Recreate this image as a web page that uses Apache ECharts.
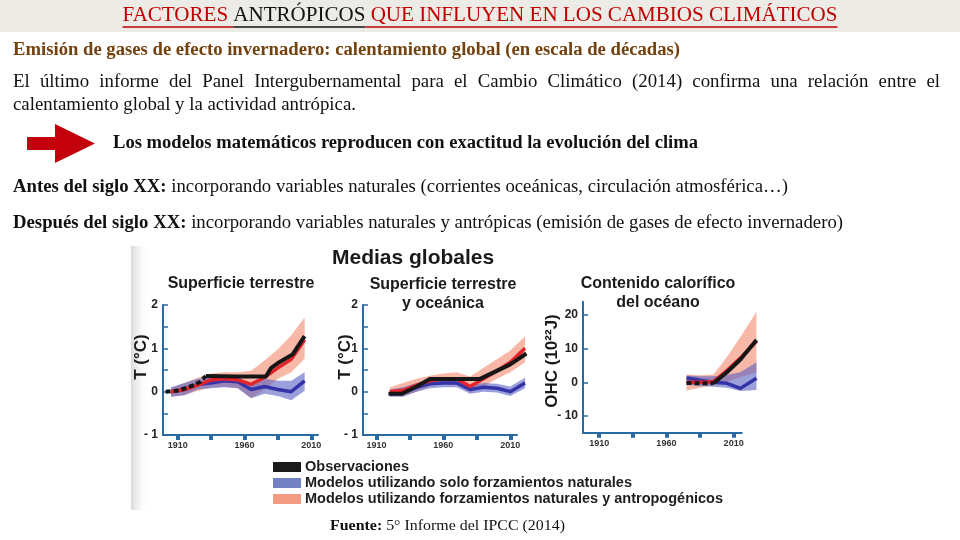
<!DOCTYPE html>
<html><head><meta charset="utf-8">
<script src="https://cdn.jsdelivr.net/npm/echarts@6/dist/echarts.min.js"></script>
<style>html,body{margin:0;padding:0;background:#fff}#c{width:960px;height:540px}</style>
</head><body><div id="c"></div>
<script>
// ---------- DATA ----------
// Panel 1: Superficie terrestre (T, °C)
const landYears      = [1905,1915,1925,1935,1945,1955,1965,1975,1985,1995,2005];
const landAnthMean   = [0, 0.05, 0.15, 0.27, 0.30, 0.27, 0.17, 0.33, 0.55, 0.75, 1.20];
const landAnthUpper  = [0.08, 0.20, 0.32, 0.42, 0.45, 0.45, 0.48, 0.72, 0.98, 1.30, 1.72];
const landAnthLower  = [-0.12, -0.08, 0.02, 0.10, 0.12, 0.08, -0.15, 0.05, 0.30, 0.45, 0.76];
const landNatMean    = [0, 0.05, 0.17, 0.20, 0.25, 0.23, 0.05, 0.12, 0.05, 0.00, 0.25];
const landNatUpper   = [0.10, 0.20, 0.30, 0.32, 0.35, 0.35, 0.15, 0.30, 0.25, 0.25, 0.45];
const landNatLower   = [-0.12, -0.08, 0.05, 0.08, 0.10, 0.08, -0.15, -0.05, -0.10, -0.20, 0.02];
const landObsDashYears = [1901, 1911, 1921, 1927, 1931];
const landObsDash      = [0, 0.03, 0.14, 0.23, 0.36];
const landObsYears     = [1931, 1955, 1976, 1980, 1985, 1996, 2005];
const landObs          = [0.36, 0.35, 0.35, 0.55, 0.66, 0.86, 1.28];

// Panel 2: Superficie terrestre y oceánica (T, °C)
const globYears      = [1920,1930,1940,1950,1960,1970,1980,1990,2000,2010,2021];
const globAnthMean   = [0, 0.03, 0.15, 0.25, 0.30, 0.30, 0.12, 0.30, 0.48, 0.68, 1.00];
const globAnthUpper  = [0.10, 0.20, 0.30, 0.37, 0.42, 0.45, 0.35, 0.55, 0.75, 0.95, 1.28];
const globAnthLower  = [-0.10, -0.10, 0.00, 0.13, 0.18, 0.15, 0.00, 0.12, 0.30, 0.45, 0.68];
const globNatMean    = [-0.05, -0.02, 0.10, 0.18, 0.20, 0.20, 0.05, 0.10, 0.08, 0.00, 0.20];
const globNatUpper   = [0.05, 0.10, 0.20, 0.28, 0.30, 0.30, 0.15, 0.20, 0.18, 0.12, 0.32];
const globNatLower   = [-0.12, -0.12, 0.00, 0.08, 0.10, 0.10, -0.05, 0.00, -0.02, -0.10, 0.08];
const globObsYears   = [1919, 1929, 1940, 1950, 1987, 2010, 2022];
const globObs        = [-0.05, -0.05, 0.12, 0.29, 0.29, 0.63, 0.88];

// Panel 3: Contenido calorífico del océano (OHC, 10^22 J)
const ohcYears       = [1975, 1985, 1995, 2005, 2015, 2027];
const ohcAnthMean    = [0, 0, 0.2, 3.5, 7.2, 12.2];
const ohcAnthUpper   = [2.3, 2.1, 2.3, 7.5, 13.5, 21];
const ohcAnthLower   = [-2.4, -1.6, -0.8, 0.2, 1.5, 3];
const ohcNatMean     = [1.3, 0.6, 0, -0.3, -1.8, 1.2];
const ohcNatUpper    = [2.0, 1.8, 1.8, 2.2, 3.0, 6];
const ohcNatLower    = [-0.7, -1.1, -1.3, -1.6, -2.6, -2.3];
const ohcObsDashYears = [1975, 1985, 1995];
const ohcObsDash      = [-0.2, -0.3, -0.3];
const ohcObsYears     = [1995, 2005, 2015, 2027];
const ohcObs          = [-0.3, 3.0, 6.8, 12.6];

// Axis ticks / labels
const xTickYears  = [1910, 1935, 1960, 1985, 2010];
const xLabelYears = [1910, 1960, 2010];
const ohcTicks    = [-10, 0, 10, 20];

const legendItems = ['Observaciones', 'Modelos utilizando solo forzamientos naturales', 'Modelos utilizando forzamientos naturales y antropogénicos'];

// ---------- STYLE ----------
const SANS = '"Liberation Sans", Arial, sans-serif';
const SERIF = '"Liberation Serif", "Times New Roman", serif';
const AX = '#2a6aa3';
const PINK = '#f6a08b', BLUE_BAND = '#585fc2';
const RED = '#e3242b', BLUE = '#3434a8', BLACK = '#161616';
const LEG_COLORS = ['#1a1a1a', '#7381c4', '#f29a82'];

const ctx = document.createElement('canvas').getContext('2d');
function tw(t, font){ ctx.font = font; return ctx.measureText(t).width; }
function pairs(xs, ys){ return xs.map((x,i)=>[x, ys[i]]); }

function bandSeries(i, xs, lo, hi, color, op, z){
  return {type:'custom', xAxisIndex:i, yAxisIndex:i, data:xs.map((x,k)=>[x, lo[k], hi[k]]),
    encode:{x:0, y:[1,2]}, silent:true, clip:false, z:z,
    renderItem:function(params, api){
      if (params.dataIndex !== 0) return null;
      const top = xs.map((x,k)=>api.coord([x, hi[k]]));
      const bot = xs.map((x,k)=>api.coord([x, lo[k]])).reverse();
      return {type:'polygon', shape:{points:top.concat(bot)}, style:{fill:color, opacity:op}};
    }};
}
function lineSeries(i, xs, ys, color, w, dashed, z){
  return {type:'custom', xAxisIndex:i, yAxisIndex:i, data:pairs(xs, ys),
    encode:{x:0, y:1}, silent:true, clip:false, z:z,
    renderItem:function(params, api){
      if (params.dataIndex !== 0) return null;
      const pts = xs.map((x,k)=>api.coord([x, ys[k]]));
      return {type:'polyline', shape:{points:pts}, style:{stroke:color, lineWidth:w, fill:null,
        lineDash: dashed ? [5,3] : null, lineJoin:'round'}};
    }};
}
function xAx(i, min, max){
  return {type:'value', gridIndex:i, min:min, max:max,
    axisLine:{onZero:false, lineStyle:{color:AX, width:2}}, splitLine:{show:false},
    axisTick:{customValues:xTickYears, length:5, lineStyle:{color:AX, width:4}},
    axisLabel:{customValues:xLabelYears, formatter:v=>String(v), fontSize:9, fontWeight:'bold', color:'#333', margin:6, fontFamily:SANS}};
}
const negFmt = v => v < 0 ? '- ' + Math.abs(v) : String(v);
function yAxT(i){
  return {type:'value', gridIndex:i, min:-1, max:2, interval:1,
    axisLine:{show:true, onZero:false, lineStyle:{color:AX, width:2}}, splitLine:{show:false},
    axisTick:{show:true, inside:true, length:5, lineStyle:{color:AX, width:1.5}},
    minorTick:{show:true, splitNumber:2, length:5, lineStyle:{color:AX, width:1.5}},
    axisLabel:{formatter:negFmt, fontSize:12, fontWeight:'bold', color:'#222', margin:5, fontFamily:SANS}};
}

const series = [
  bandSeries(0, landYears, landAnthLower, landAnthUpper, PINK, 0.75, 1),
  bandSeries(0, landYears, landNatLower, landNatUpper, BLUE_BAND, 0.6, 2),
  lineSeries(0, landYears, landNatMean, BLUE, 3.5, false, 3),
  lineSeries(0, landYears, landAnthMean, RED, 3.5, false, 4),
  lineSeries(0, landObsDashYears, landObsDash, BLACK, 4, true, 5),
  lineSeries(0, landObsYears, landObs, BLACK, 4, false, 5),
  bandSeries(1, globYears, globAnthLower, globAnthUpper, PINK, 0.75, 1),
  bandSeries(1, globYears, globNatLower, globNatUpper, BLUE_BAND, 0.6, 2),
  lineSeries(1, globYears, globNatMean, BLUE, 3.5, false, 3),
  lineSeries(1, globYears, globAnthMean, RED, 3.5, false, 4),
  lineSeries(1, globObsYears, globObs, BLACK, 4, false, 5),
  bandSeries(2, ohcYears, ohcAnthLower, ohcAnthUpper, PINK, 0.75, 1),
  bandSeries(2, ohcYears, ohcNatLower, ohcNatUpper, BLUE_BAND, 0.6, 2),
  lineSeries(2, ohcYears, ohcNatMean, BLUE, 3.5, false, 3),
  lineSeries(2, ohcYears, ohcAnthMean, RED, 3.5, false, 4),
  lineSeries(2, ohcObsDashYears, ohcObsDash, BLACK, 4, true, 5),
  lineSeries(2, ohcObsYears, ohcObs, BLACK, 4, false, 5)
];

// ---------- GRAPHIC (slide text) ----------
const G = [];
function txt(x, y, text, font, color, align, extra, sx){
  const el = {type:'text', x:x, y:y, silent:true, z:10, scaleX:sx||1,
    style:Object.assign({text:text, font:font, fill:color, textAlign:align||'left', textVerticalAlign:'middle'}, extra||{})};
  G.push(el); return el;
}
// fitted text: stretch horizontally to target width
function fitTxt(x, y, parts, size, color, target){
  const fReg = size + 'px ' + SERIF, fB = 'bold ' + size + 'px ' + SERIF;
  let w = 0, s = '';
  parts.forEach(p=>{ w += tw(p[0], p[1] ? fB : fReg); s += p[1] ? '{b|' + p[0] + '}' : p[0]; });
  const sx = target / w;
  txt(x, y, s, fReg, color, 'left', {rich:{b:{font:fB, fill:color}}}, sx);
  return sx;
}
// title bar
G.push({type:'rect', shape:{x:0, y:0, width:960, height:32}, style:{fill:'#ecebe5'}, silent:true, z:0});
const TF = '20px ' + SERIF;
const tParts = ['FACTORES ', 'ANTRÓPICOS', ' QUE INFLUYEN EN LOS CAMBIOS CLIMÁTICOS'];
const tCols = ['#c00000', '#111111', '#c00000'];
const tW0 = tParts.map(p=>tw(p, TF));
const tS = 715 / (tW0[0]+tW0[1]+tW0[2]);
let tx = 480 - 715/2;
tParts.forEach((p,k)=>{
  txt(tx, 16, p, TF, tCols[k], 'left', null, tS);
  G.push({type:'line', shape:{x1:tx, y1:27, x2:tx+tW0[k]*tS, y2:27}, style:{stroke:tCols[k], lineWidth:1.6}, silent:true, z:10});
  tx += tW0[k]*tS;
});
const FS = 18;
// subtitle
fitTxt(13, 50, [['Emisión de gases de efecto invernadero: calentamiento global (en escala de décadas)', true]], FS, '#74420f', 667);
// paragraph
const PF = FS + 'px ' + SERIF;
const PSX = fitTxt(13, 105, [['calentamiento global y la actividad antrópica.', false]], FS, '#111', 343);
const words = 'El último informe del Panel Intergubernamental para el Cambio Climático (2014) confirma una relación entre el'.split(' ');
const wW = words.map(w=>tw(w, PF) * PSX);
const gap = (940 - 13 - wW.reduce((a,b)=>a+b,0)) / (words.length - 1);
let wx = 13;
words.forEach((w,k)=>{ txt(wx, 82, w, PF, '#111', 'left', null, PSX); wx += wW[k] + gap; });
// arrow
G.push({type:'polygon', shape:{points:[[27,137],[55,137],[55,124],[95,143.5],[55,163],[55,150],[27,150]]}, style:{fill:'#c3000b'}, silent:true, z:10});
fitTxt(113, 143, [['Los modelos matemáticos reproducen con exactitud la evolución del clima', true]], FS, '#111', 585);
// antes / después
fitTxt(13, 187, [['Antes del siglo XX:', true], [' incorporando variables naturales (corrientes oceánicas, circulación atmosférica…)', false]], FS, '#111', 775);
fitTxt(13, 223, [['Después del siglo XX:', true], [' incorporando variables naturales y antrópicas (emisión de gases de efecto invernadero)', false]], FS, '#111', 830);

// chart figure decorations
G.push({type:'rect', shape:{x:131, y:246, width:18, height:264},
  style:{fill:new echarts.graphic.LinearGradient(0,0,1,0,[{offset:0,color:'#d9d9d9'},{offset:1,color:'rgba(255,255,255,0)'}])}, silent:true, z:0});
txt(332, 258, 'Medias globales', 'bold 21px ' + SANS, '#1a1a1a');
const PT = 'bold 16px ' + SANS;
txt(241, 284, 'Superficie terrestre', PT, '#1a1a1a', 'center');
txt(443, 285, 'Superficie terrestre', PT, '#1a1a1a', 'center');
txt(443, 304, 'y oceánica', PT, '#1a1a1a', 'center');
txt(658, 284, 'Contenido calorífico', PT, '#1a1a1a', 'center');
txt(658, 303, 'del océano', PT, '#1a1a1a', 'center');
// rotated axis names
const AF = 'bold 17px ' + SANS;
G.push({type:'text', x:141, y:357, rotation:Math.PI/2, silent:true, z:10, style:{text:'T (°C)', font:AF, fill:'#1a1a1a', textAlign:'center', textVerticalAlign:'middle'}});
G.push({type:'text', x:345, y:357, rotation:Math.PI/2, silent:true, z:10, style:{text:'T (°C)', font:AF, fill:'#1a1a1a', textAlign:'center', textVerticalAlign:'middle'}});
G.push({type:'text', x:552, y:361, rotation:Math.PI/2, silent:true, z:10, style:{text:'OHC (10²²J)', font:AF, fill:'#1a1a1a', textAlign:'center', textVerticalAlign:'middle'}});
// legend
const LF = 'bold 14.5px ' + SANS;
const LSX = 418 / tw(legendItems[2], LF);
legendItems.forEach((name,k)=>{
  const y = 462 + k*16;
  G.push({type:'rect', shape:{x:273, y:y, width:28, height:10}, style:{fill:LEG_COLORS[k]}, silent:true, z:10});
  txt(305, y+5, name, LF, '#1e1e1e', 'left', null, LSX);
});
// source
fitTxt(330, 526, [['Fuente:', true], [' 5° Informe del IPCC (2014)', false]], 15, '#111', 235);

// ---------- CHART ----------
const chart = echarts.init(document.getElementById('c'), null, {renderer:'canvas'});
chart.setOption({
  animation:false,
  backgroundColor:'#ffffff',
  grid:[
    {left:163, top:305, width:155, height:130},
    {left:363, top:305, width:154, height:130},
    {left:583, top:301.7, width:158.7, height:131}
  ],
  xAxis:[xAx(0, 1899, 2015), xAx(1, 1900, 2015), xAx(2, 1898, 2016)],
  yAxis:[yAxT(0), yAxT(1),
    {type:'value', gridIndex:2, min:-15, max:24,
     axisLine:{show:true, onZero:false, lineStyle:{color:AX, width:2}}, splitLine:{show:false},
     axisTick:{show:true, inside:true, length:5, customValues:ohcTicks, lineStyle:{color:AX, width:1.5}},
     axisLabel:{customValues:ohcTicks, formatter:negFmt, fontSize:12, fontWeight:'bold', color:'#222', margin:5, fontFamily:SANS}}],
  series:series,
  graphic:{elements:G}
});
</script>
</body></html>
